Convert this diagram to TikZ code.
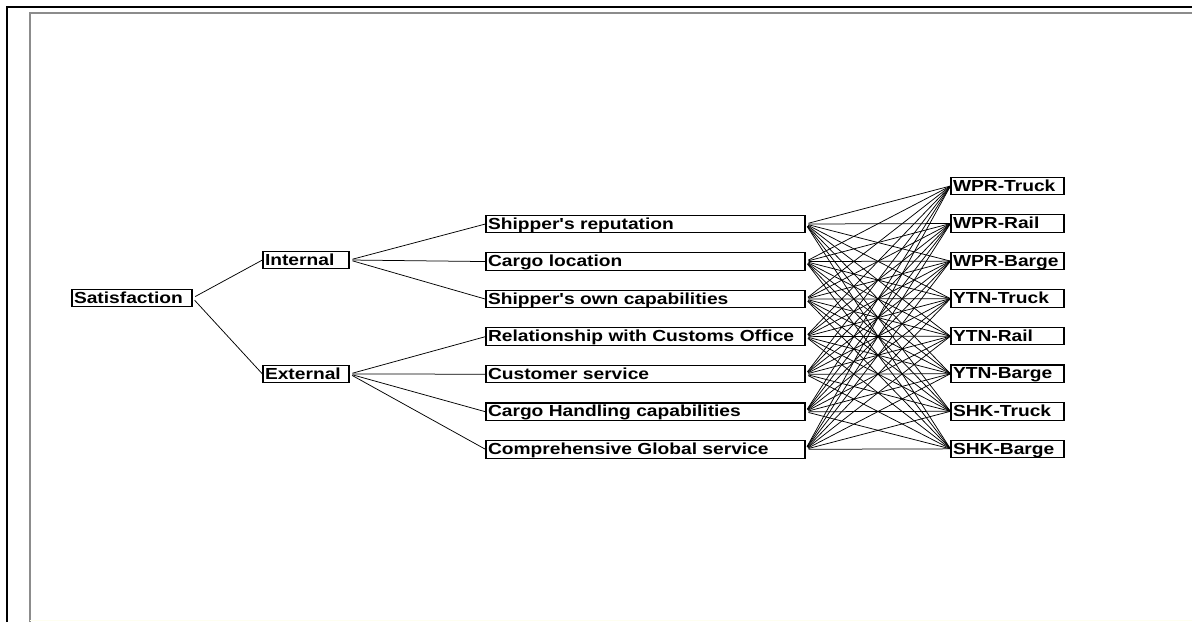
\documentclass[tikz,border=0pt]{standalone}
\usepackage{fontspec}
\newfontfamily\boxfont[FakeStretch=1.2]{Liberation Sans}
\usepackage{tikz}
\usetikzlibrary{positioning}

\tikzset{
  box/.style={draw, line width=1.1pt, rectangle, inner xsep=2pt, inner ysep=1pt,
    text height=13pt, text depth=2.5pt, align=left,
    font=\boxfont\bfseries\fontsize{16}{18}\selectfont},
  goal/.style={box, text width=116pt},
  crit/.style={box, text width=82pt},
  sub/.style={box, text width=315pt},
  alt/.style={box, text width=109pt},
  link/.style={draw, line width=0.75pt, shorten <=3pt}
}

\begin{document}
\begin{tikzpicture}[x=1pt, y=1pt, node distance=37.55pt]
  \useasboundingbox (0,0) rectangle (1192,622);
  % window frame
  \draw[line width=2pt] (7,0) -- (7,615) -- (1192,615);
  \draw[line width=2pt, gray!90] (30,0) -- (30,608.5) -- (1192,608.5);
  \draw[line width=1pt, black!5!yellow!6] (30,2) -- (1192,2);

  % goal and criteria
  \node[goal] (sat) at (132,324) {Satisfaction};
  \node[crit] (int) at (306,362) {Internal};
  \node[crit] (ext) at (306,248) {External};

  % sub-criteria
  \node[sub] (s1) at (645.5,398) {Shipper's reputation};
  \node[sub] (s2) [below of=s1] {Cargo location};
  \node[sub] (s3) [below of=s2] {Shipper's own capabilities};
  \node[sub] (s4) [below of=s3] {Relationship with Customs Office};
  \node[sub] (s5) [below of=s4] {Customer service};
  \node[sub] (s6) [below of=s5] {Cargo Handling capabilities};
  \node[sub] (s7) [below of=s6] {Comprehensive Global service};

  % alternatives
  \node[alt] (a1) at (1007.5,436) {WPR-Truck};
  \node[alt] (a2) [below of=a1] {WPR-Rail};
  \node[alt] (a3) [below of=a2] {WPR-Barge};
  \node[alt] (a4) [below of=a3] {YTN-Truck};
  \node[alt] (a5) [below of=a4] {YTN-Rail};
  \node[alt] (a6) [below of=a5] {YTN-Barge};
  \node[alt] (a7) [below of=a6] {SHK-Truck};
  \node[alt] (a8) [below of=a7] {SHK-Barge};

  \draw[link] (sat.east) -- (int.west);
  \draw[link] (sat.east) -- (ext.west);
  \foreach \s in {1,2,3}
    \draw[link] (int.east) -- (s\s.west);
  \foreach \s in {4,5,6,7}
    \draw[link] (ext.east) -- (s\s.west);
  \foreach \s in {1,...,7}
    \foreach \a in {1,...,8}
      \draw[link] (s\s.east) -- (a\a.west);
\end{tikzpicture}
\end{document}
